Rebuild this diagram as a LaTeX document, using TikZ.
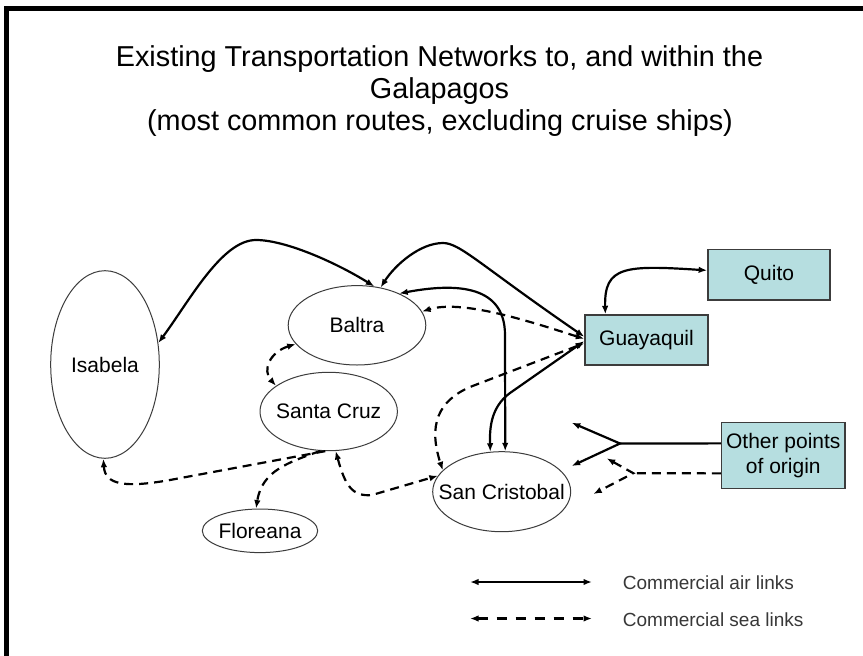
\documentclass[tikz,border=0pt]{standalone}
\usepackage{fontspec}
\setmainfont{Liberation Sans}
\usetikzlibrary{arrows.meta,shapes.geometric}
\definecolor{boxfill}{RGB}{182,222,224}
\definecolor{edgegray}{RGB}{60,60,60}
\newcommand\zw[1]{\makebox[0pt][c]{#1}}
\begin{document}
\begin{tikzpicture}[x=1pt,y=-1pt,
  >={Latex[length=8.5pt,width=6.5pt]},
  isle/.style={ellipse, draw=edgegray, line width=1pt, inner sep=0pt, font=\fontsize{21}{25}\selectfont},
  place/.style={rectangle, draw=edgegray, line width=1.4pt, fill=boxfill, inner sep=0pt, font=\fontsize{21}{25.6}\selectfont, align=center},
  heading/.style={font=\fontsize{28.8}{32}\selectfont, anchor=base, inner sep=0pt},
  legendtext/.style={font=\fontsize{19}{22}\selectfont, anchor=base west, inner sep=0pt, text=black!78},
  airlink/.style={line width=2.2pt},
  sealink/.style={line width=2.2pt, dash pattern=on 9pt off 6pt},
]
\useasboundingbox (0,0) rectangle (863,656);
\fill[white] (0,0) rectangle (863,656);
% frame
\draw[line width=4.6pt, line join=miter] (6.75,656) -- (6.75,8.3) -- (863,8.3);

% title
\node[heading] (t1) at (439.5,66) {Existing Transportation Networks to, and within the};
\node[heading] (t2) at (439.5,98) {Galapagos};
\node[heading] (t3) at (440,130) {(most common routes, excluding cruise ships)};

% islands
\node[isle, minimum width=108.6pt, minimum height=187.6pt] (isa) at (105,364.5) {\zw{Isabela}};
\node[isle, minimum width=137.6pt, minimum height=79.4pt] (bal) at (357,325.3) {\zw{Baltra}};
\node[isle, minimum width=137.4pt, minimum height=78.4pt] (scz) at (328.7,411.5) {\zw{Santa Cruz}};
\node[isle, minimum width=115.4pt, minimum height=43.6pt] (flo) at (260,530.8) {\zw{Floreana}};
\node[isle, minimum width=138pt, minimum height=80pt] (sc) at (501.7,491.7) {\zw{San Cristobal}};

% mainland places
\node[place, minimum width=123pt, minimum height=50pt] (gua) at (646.5,340) {Guayaquil};
\node[place, minimum width=122.3pt, minimum height=50.7pt] (qui) at (769,274.7) {Quito};
\node[place, minimum width=123.3pt, minimum height=65.6pt] (oth) at (783.3,455.5) {Other points\\of origin};

% air links
\draw[airlink,<->] (isa.22) .. controls (190,300) and (222,240) .. (256,240)
      .. controls (285,240) and (335,262) .. (bal.66);
\draw[airlink,<->] (gua.177) .. controls (480,265) and (460,243) .. (443,243)
      .. controls (420,243) and (395,265) .. (bal.58);
\draw[airlink,<->] (bal.37) .. controls (450,284) and (505,282) .. (505,335) -- (sc.85);
\draw[airlink,<->] (gua.181) -- (510,393) .. controls (495,404) and (490,420) .. (490,438) -- (sc.106);
\draw[airlink,<->] (gua.148) .. controls (604,266) and (625,265) .. (qui.176);

% sea links
\draw[sealink,<->] (gua.179) .. controls (520,318) and (460,300) .. (bal.12);
\draw[sealink,<->] (gua.183) -- (470,387) .. controls (438,401) and (428,425) .. (sc.160);
\draw[sealink,<->] (bal.197) .. controls (270,352) and (262,370) .. (scz.154);
\draw[sealink,->] (scz.265) -- (170,480) .. controls (125,488) and (105,485) .. (isa.269);
\draw[sealink,->] (scz.258) .. controls (290,462) and (262,470) .. (flo.100);
\draw[sealink,<->] (scz.280) .. controls (345,485) and (352,497) .. (372,495) -- (sc.166);

% other points of origin forks
\coordinate (fj1) at (620,443.5);
\coordinate (fa1) at (571.7,422.7);
\coordinate (fa2) at (571.7,466);
\coordinate (fj2) at (633.3,473.2);
\coordinate (fb1) at (606.7,458.3);
\coordinate (fb2) at (593.3,494);
\draw[airlink] (oth.169) -- (fj1);
\draw[airlink,<->,line join=miter] (fa1) -- (fj1) -- (fa2);
\draw[sealink] (oth.196) -- (fj2);
\draw[sealink,<->,line join=miter] (fb1) -- (fj2) -- (fb2);

% legend
\coordinate (la1) at (470,582);
\coordinate (la2) at (592,582);
\coordinate (lb1) at (470,618.5);
\coordinate (lb2) at (592,618.5);
\draw[airlink,<->] (la1) -- (la2);
\draw[sealink,<->,dash pattern=on 10pt off 9pt] (lb1) -- (lb2);
\node[legendtext] (lta) at (622.7,589.3) {Commercial air links};
\node[legendtext] (ltb) at (622.7,626.5) {Commercial sea links};
\end{tikzpicture}
\end{document}
